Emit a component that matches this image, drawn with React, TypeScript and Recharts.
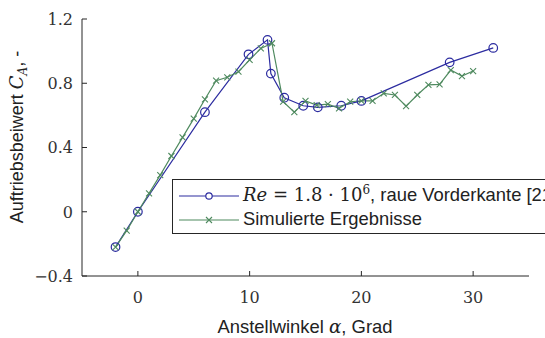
import { LineChart, Line, XAxis, YAxis } from 'recharts';

// measured: Re = 1.8e6, rough leading edge
const refAngle = [-2, 0, 6, 9.9, 11.6, 11.9, 13.1, 14.8, 16.1, 18.2, 20, 27.9, 31.8];
const refLift = [-0.22, 0, 0.62, 0.98, 1.07, 0.86, 0.71, 0.66, 0.65, 0.66, 0.69, 0.93, 1.02];

// simulation
const simAngle = [-2, -1, 0, 1, 2, 3, 4, 5, 6, 7, 8, 9, 10, 11, 12, 13, 14, 15, 16, 17, 18, 19, 20, 21, 22, 23, 24, 25, 26, 27, 28, 29, 30];
const simLift = [-0.22, -0.118, 0, 0.115, 0.228, 0.347, 0.463, 0.58, 0.7, 0.816, 0.837, 0.872, 0.945, 1.017, 1.049, 0.685, 0.62, 0.69, 0.664, 0.67, 0.644, 0.685, 0.69, 0.69, 0.737, 0.727, 0.658, 0.727, 0.79, 0.793, 0.882, 0.845, 0.876];

const xTicks = [0, 10, 20, 30];
const yTicks = [-0.4, 0, 0.4, 0.8, 1.2];

const BLUE = '#2c2ca0';
const GREEN = '#4f8a5f';
const AXIS = '#262626';
const SERIF = '"DejaVu Serif", serif';
const SANS = '"Liberation Sans", Arial, sans-serif';

const refData = refAngle.map((x, i) => ({ x, y: refLift[i] }));
const simData = simAngle.map((x, i) => ({ x, y: simLift[i] }));

const fmtY = (v: number) => (v === 0 ? '0' : v.toFixed(1).replace('-', '\u2212'));

const XTick = ({ x, y, payload }: any) => (
  <g>
    <line x1={x} x2={x} y1={y} y2={y - 5} stroke={AXIS} />
    <text x={x} y={y + 27} textAnchor="middle" fontFamily={SERIF} fontSize={16} fill="#333">
      {payload.value}
    </text>
  </g>
);

const YTick = ({ x, y, payload }: any) => (
  <g>
    <line x1={x} x2={x + 5} y1={y} y2={y} stroke={AXIS} />
    <text x={x - 9} y={y} dy="0.36em" textAnchor="end" fontFamily={SERIF} fontSize={16} fill="#333">
      {fmtY(payload.value)}
    </text>
  </g>
);

const YLabel = () => (
  <text transform="translate(23,137) rotate(-90)" textAnchor="middle" fontFamily={SANS} fontSize={18} fill="#222">
    Auftriebsbeiwert{' '}
    <tspan fontFamily={SERIF} fontStyle="italic">C</tspan>
    <tspan fontFamily={SERIF} fontStyle="italic" fontSize={12} dy={4}>A</tspan>
    <tspan dy={-4}>, -</tspan>
  </text>
);

const XLabel = () => (
  <text x={305} y={333} textAnchor="middle" fontFamily={SANS} fontSize={18.4} fill="#222">
    Anstellwinkel <tspan fontFamily={SERIF} fontStyle="italic">α</tspan>, Grad
  </text>
);

const Circle = (p: any) => (
  <circle key={`c${p.index}`} cx={p.cx} cy={p.cy} r={4.3} fill="none" stroke={BLUE} strokeWidth={1.2} />
);

const Cross = (p: any) => (
  <path key={`x${p.index}`} d={`M${p.cx - 3},${p.cy - 3}L${p.cx + 3},${p.cy + 3}M${p.cx - 3},${p.cy + 3}L${p.cx + 3},${p.cy - 3}`} stroke={GREEN} strokeWidth={1.1} />
);

const LegendBox = () => (
  <div style={{ position: 'absolute', left: 172, top: 179, border: `1px solid ${AXIS}`, background: '#fff', height: 53, width: 430, fontFamily: SANS, fontSize: 18.4, color: '#222' }}>
    <svg width={70} height={53} style={{ position: 'absolute', left: 0, top: 0 }}>
      <line x1={6} x2={66} y1={16} y2={16} stroke={BLUE} strokeWidth={1.2} />
      <circle cx={36} cy={16} r={3.2} fill="#fff" stroke={BLUE} strokeWidth={1.2} />
      <line x1={6} x2={66} y1={40} y2={40} stroke={GREEN} strokeWidth={1.2} />
      <path d="M33,37L39,43M33,43L39,37" stroke={GREEN} strokeWidth={1.1} />
    </svg>
    <div style={{ position: 'absolute', left: 70, top: 4, whiteSpace: 'nowrap', lineHeight: '22px' }}>
      <span style={{ fontFamily: SERIF, fontStyle: 'italic', fontSize: 18 }}>Re</span>
      <span style={{ fontFamily: SERIF, fontSize: 18 }}> = 1.8 · 10<sup style={{ fontSize: 12, verticalAlign: '7px', lineHeight: 0 }}>6</sup></span>
      , raue Vorderkante [21]
    </div>
    <div style={{ position: 'absolute', left: 70, top: 28, whiteSpace: 'nowrap', lineHeight: '22px' }}>
      Simulierte Ergebnisse
    </div>
  </div>
);

export default function App() {
  return (
    <div style={{ position: 'absolute', left: 0, top: 0, width: 545, height: 338, overflow: 'hidden', background: '#fff' }}>
      <LineChart width={545} height={338} margin={{ top: 19, right: 16, bottom: 0, left: 0 }}>
        <XAxis
          type="number"
          dataKey="x"
          domain={[-5, 35]}
          ticks={xTicks}
          height={62}
          tickSize={0}
          tickMargin={0}
          tickLine={false}
          tick={<XTick />}
          axisLine={{ stroke: AXIS }}
          label={<XLabel />}
        />
        <YAxis
          type="number"
          domain={[-0.4, 1.2]}
          ticks={yTicks}
          width={82}
          tickSize={0}
          tickMargin={0}
          tickLine={false}
          tick={<YTick />}
          axisLine={{ stroke: AXIS }}
          label={<YLabel />}
        />
        <Line data={refData} dataKey="y" stroke={BLUE} strokeWidth={1.2} dot={Circle} isAnimationActive={false} />
        <Line data={simData} dataKey="y" stroke={GREEN} strokeWidth={1.2} dot={Cross} isAnimationActive={false} />
      </LineChart>
      <LegendBox />
    </div>
  );
}
